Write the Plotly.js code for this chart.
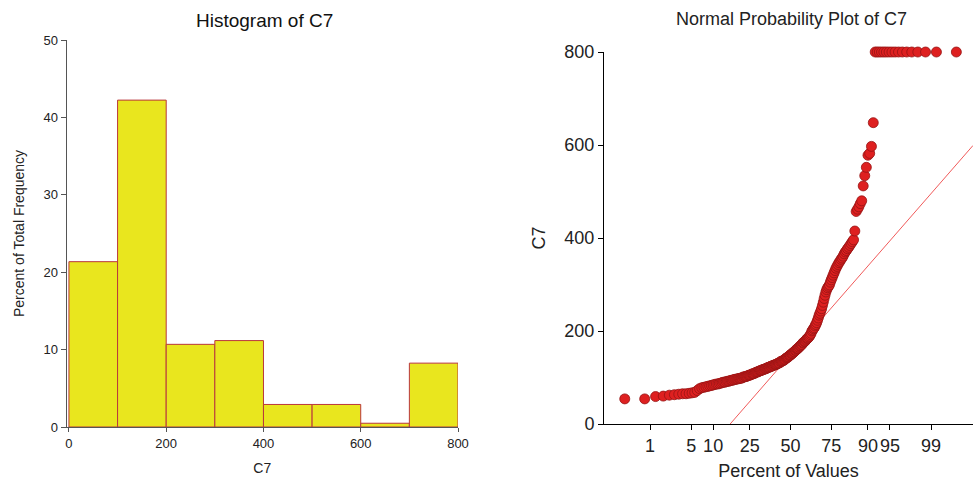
<!DOCTYPE html>
<html><head><meta charset="utf-8">
<script src="https://cdn.plot.ly/plotly-3.0.1.min.js"></script>
<style>html,body{margin:0;padding:0;background:#fff}#chart{width:973px;height:481px}</style>
</head><body><div id="chart"></div>
<script>
const c7Values = [
  54,54,59,60,62,63,64,65,65,66,
  67,68,72,76,78,79,80,81,82,83,
  84,85,86,86,87,88,89,90,90,91,
  92,92,93,94,94,95,96,96,97,97,
  98,98,99,99,
  101,101,102,102,103,104,105,105,106,107,
  108,108,109,110,111,112,112,113,114,115,
  115,116,117,117,118,119,119,120,121,122,
  122,123,124,124,125,126,126,127,128,128,
  129,130,131,131,132,134,135,135,136,137,
  138,139,141,142,143,144,145,147,148,149,
  151,152,153,155,156,158,159,161,162,163,
  165,167,168,170,171,174,175,177,178,180,
  182,184,185,187,189,192,195,
  200,202,205,207,211,214,218,223,228,234,
  238,243,248,255,262,270,277,284,289,293,
  296,299,
  305,310,315,320,325,330,335,339,343,347,
  350,354,357,361,366,370,373,377,380,384,
  388,392,396,
  415,457,462,467,474,480,
  512,534,552,578,582,597,
  648,
  800,800,800,800,800,800,800,800,800,800,
  800,800,800,800,800,800,800
];
const binEdges = [0,100,200,300,400,500,600,700,800];
const histYTicks = [0,10,20,30,40,50];
const histXTicks = [0,200,400,600,800];
const nppYTicks = [0,200,400,600,800];
const percentTickLabels = [1,5,10,25,50,75,90,95,99];
const refLineIntercept = 149;
const refLineSlope = 149;

function invNorm(p){
  const a=[-3.969683028665376e+01,2.209460984245205e+02,-2.759285104469687e+02,1.383577518672690e+02,-3.066479806614716e+01,2.506628277459239e+00];
  const b=[-5.447609879822406e+01,1.615858368580409e+02,-1.556989798598866e+02,6.680131188771972e+01,-1.328068155288572e+01];
  const c=[-7.784894002430293e-03,-3.223964580411365e-01,-2.400758277161838e+00,-2.549671348283918e+00,4.374664141464968e+00,2.938163982698783e+00];
  const d=[7.784695709041462e-03,3.224671290700398e-01,2.445134137142996e+00,3.754408661907416e+00];
  const plow=0.02425, phigh=1-plow;
  let q,r;
  if(p<plow){q=Math.sqrt(-2*Math.log(p));return (((((c[0]*q+c[1])*q+c[2])*q+c[3])*q+c[4])*q+c[5])/((((d[0]*q+d[1])*q+d[2])*q+d[3])*q+1);}
  if(p<=phigh){q=p-0.5;r=q*q;return (((((a[0]*r+a[1])*r+a[2])*r+a[3])*r+a[4])*r+a[5])*q/(((((b[0]*r+b[1])*r+b[2])*r+b[3])*r+b[4])*r+1);}
  q=Math.sqrt(-2*Math.log(1-p));return -(((((c[0]*q+c[1])*q+c[2])*q+c[3])*q+c[4])*q+c[5])/((((d[0]*q+d[1])*q+d[2])*q+d[3])*q+1);
}

const N = c7Values.length;
// histogram percentages (last bin right-inclusive)
const binCenters=[], binWidths=[], binPercents=[];
for(let k=0;k<binEdges.length-1;k++){
  const lo=binEdges[k], hi=binEdges[k+1], last=(k===binEdges.length-2);
  const cnt=c7Values.filter(v=> v>=lo && (last ? v<=hi : v<hi)).length;
  binCenters.push((lo+hi)/2); binWidths.push(hi-lo); binPercents.push(100*cnt/N);
}
// normal scores (Blom)
const zScores = c7Values.map((v,i)=>invNorm((i+1-0.375)/(N+0.25)));
const tickZ = percentTickLabels.map(p=>invNorm(p/100));
const xRange2 = [-3.088, 3.02];
const lineX = xRange2.slice();
const lineY = lineX.map(z=>refLineIntercept+refLineSlope*z);

const FONT = 'Liberation Sans, Arial, sans-serif';
const W=973, H=481;
const px = x=>x/W, py = y=>(H-y)/H;

const traces = [
  {type:'bar', x:binCenters, y:binPercents, width:binWidths, xaxis:'x', yaxis:'y',
   marker:{color:'rgb(233,230,30)', line:{color:'rgb(185,55,60)', width:1}}, hoverinfo:'x+y'},
  {type:'scatter', mode:'lines', x:lineX, y:lineY, xaxis:'x2', yaxis:'y2',
   line:{color:'rgb(240,90,90)', width:1}, hoverinfo:'skip'},
  {type:'scatter', mode:'markers', x:zScores, y:c7Values, xaxis:'x2', yaxis:'y2', cliponaxis:false,
   marker:{size:10, color:'rgb(222,32,32)', line:{color:'rgb(150,20,20)', width:0.8}}}
];

const layout = {
  width:W, height:H, margin:{l:0,r:0,t:0,b:0}, showlegend:false,
  paper_bgcolor:'#fff', plot_bgcolor:'#fff', bargap:0,
  font:{family:FONT, color:'#222'},
  xaxis:{domain:[px(66.5), px(458)], range:[-5,800], anchor:'y', tickvals:histXTicks,
    ticks:'outside', ticklen:4, tickcolor:'#555', showline:true, linecolor:'#555', linewidth:1,
    showgrid:false, zeroline:false, tickangle:0, tickfont:{size:13, family:FONT, color:'#222'},
    title:{text:'C7', font:{size:14, family:FONT, color:'#222'}, standoff:13}},
  yaxis:{domain:[py(427), py(40)], range:[0,50], anchor:'x', tickvals:histYTicks,
    ticks:'outside', ticklen:5, tickcolor:'#555', showline:true, linecolor:'#555', linewidth:1,
    showgrid:false, zeroline:false, tickfont:{size:13, family:FONT, color:'#222'},
    title:{text:'Percent of Total Frequency', font:{size:14, family:FONT, color:'#222'}, standoff:15}},
  xaxis2:{domain:[px(604), 1], range:xRange2, anchor:'y2', tickvals:tickZ,
    ticktext:percentTickLabels.map(String), tickangle:0,
    ticks:'outside', ticklen:5, tickcolor:'#000', showline:true, linecolor:'#000', linewidth:1,
    showgrid:false, zeroline:false, tickfont:{size:18, family:FONT, color:'#222'},
    title:{text:'Percent of Values', font:{size:18, family:FONT, color:'#222'}, standoff:9}},
  yaxis2:{domain:[py(424), py(52)], range:[0,800], anchor:'x2', tickvals:nppYTicks,
    ticks:'outside', ticklen:5, tickcolor:'#000', showline:true, linecolor:'#000', linewidth:1,
    showgrid:false, zeroline:false, tickfont:{size:18, family:FONT, color:'#222'},
    title:{text:'C7', font:{size:18, family:FONT, color:'#222'}, standoff:14}},
  annotations:[
    {text:'Histogram of C7', xref:'paper', yref:'paper', x:px(264), y:py(20), xanchor:'center', yanchor:'middle',
     showarrow:false, font:{size:19, family:FONT, color:'#111'}},
    {text:'Normal Probability Plot of C7', xref:'paper', yref:'paper', x:px(791), y:py(19), xanchor:'center', yanchor:'middle',
     showarrow:false, font:{size:18, family:FONT, color:'#222'}}
  ]
};

Plotly.newPlot('chart', traces, layout, {displayModeBar:false, staticPlot:true});
</script>
</body></html>
